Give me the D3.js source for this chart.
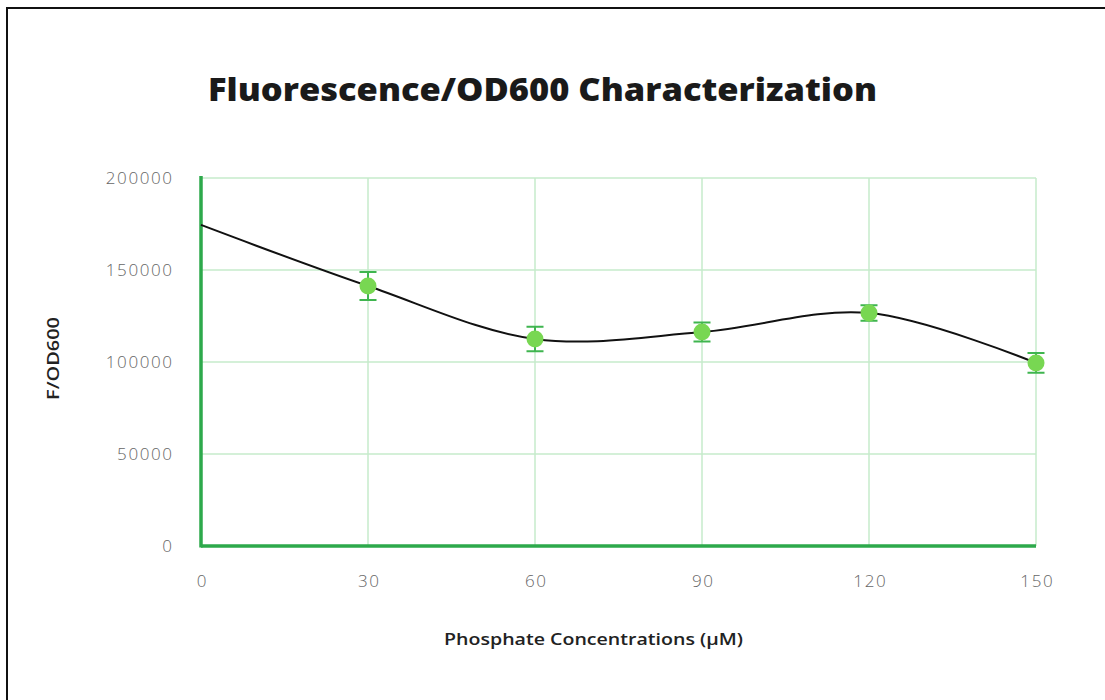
<!DOCTYPE html>
<html>
<head>
<meta charset="utf-8">
<script src="https://cdn.jsdelivr.net/npm/d3@7"></script>
<style>
  body { margin: 0; background: #fff; }
  svg text { font-family: "Open Sans", "DejaVu Sans", sans-serif; }
</style>
</head>
<body>
<div id="chart"></div>
<script>
// data
var concentrations = [0, 30, 60, 90, 120, 150];
var fluorescence   = [174500, 141300, 112500, 116300, 126600, 99500];
var errors         = [null, 7600, 6600, 5100, 4200, 5400];
var xTicks = [0, 30, 60, 90, 120, 150];
var yTicks = [0, 50000, 100000, 150000, 200000];

var W = 1105, H = 700;
var margin = {top: 178, right: 69, bottom: 154, left: 201};
var w = W - margin.left - margin.right,
    h = H - margin.top - margin.bottom;

var svg = d3.select('#chart').append('svg')
  .attr('width', W).attr('height', H);

// frame of the screenshot (only top and left edges visible)
svg.append('path')
  .attr('d', 'M7,' + H + 'V8H' + W)
  .attr('fill', 'none').attr('stroke', '#111').attr('stroke-width', 2);

svg.append('text')
  .attr('x', 208).attr('y', 101)
  .attr('font-size', 31).attr('font-weight', 800)
  .attr('fill', '#1a1a1a')
  .attr('textLength', 669).attr('lengthAdjust', 'spacingAndGlyphs')
  .text('Fluorescence/OD600 Characterization');

var g = svg.append('g').attr('transform', 'translate(' + margin.left + ',' + margin.top + ')');

var x = d3.scaleLinear().domain([0, 150]).range([0, w]);
var y = d3.scaleLinear().domain([0, 200000]).range([h, 0]);

// grid
g.selectAll('.hgrid').data(yTicks).enter().append('line')
  .attr('x1', 0).attr('x2', w)
  .attr('y1', d => y(d)).attr('y2', d => y(d))
  .attr('stroke', '#c6ebcb').attr('stroke-width', 1.5);
g.selectAll('.vgrid').data(xTicks).enter().append('line')
  .attr('x1', d => x(d)).attr('x2', d => x(d))
  .attr('y1', 0).attr('y2', h)
  .attr('stroke', '#c6ebcb').attr('stroke-width', 1.5);

// axes lines
g.append('line').attr('x1', 0).attr('x2', 0).attr('y1', -2).attr('y2', h + 1.5)
  .attr('stroke', '#2da94b').attr('stroke-width', 3.5);
g.append('line').attr('x1', 0).attr('x2', w).attr('y1', h).attr('y2', h)
  .attr('stroke', '#2da94b').attr('stroke-width', 3.5);

// tick labels
var yAxis = g.append('g').call(d3.axisLeft(y).tickValues(yTicks).tickSize(0).tickPadding(29).tickFormat(d3.format('d')));
var xAxis = g.append('g').attr('transform', 'translate(0,' + h + ')')
  .call(d3.axisBottom(x).tickValues(xTicks).tickSize(0).tickPadding(29));
[xAxis, yAxis].forEach(function (a) {
  a.select('.domain').remove();
  a.selectAll('text').attr('font-size', 17).attr('font-weight', 300)
    .attr('letter-spacing', 1.6)
    .attr('fill', '#666').attr('font-family', '"Open Sans", sans-serif');
});
yAxis.selectAll('text').attr('dx', 1.6);
xAxis.selectAll('text').attr('dx', 0.8);

// axis titles
svg.append('text')
  .attr('x', 444).attr('y', 645)
  .attr('font-size', 17).attr('font-weight', 600).attr('fill', '#222')
  .attr('textLength', 299).attr('lengthAdjust', 'spacingAndGlyphs')
  .text('Phosphate Concentrations (μM)');
svg.append('text')
  .attr('transform', 'translate(59,400) rotate(-90)')
  .attr('font-size', 17).attr('font-weight', 600).attr('fill', '#222')
  .attr('textLength', 83).attr('lengthAdjust', 'spacingAndGlyphs')
  .text('F/OD600');

var pts = concentrations.map((c, i) => ({x: c, y: fluorescence[i], e: errors[i]}));

// smooth line
var line = d3.line().x(d => x(d.x)).y(d => y(d.y)).curve(d3.curveCatmullRom.alpha(0.5));
g.append('path').datum(pts)
  .attr('d', line).attr('fill', 'none')
  .attr('stroke', '#111').attr('stroke-width', 2);

// error bars
var eb = pts.filter(d => d.e != null);
var cap = 8.5;
g.selectAll('.err').data(eb).enter().append('path')
  .attr('d', d => {
    var cx = x(d.x), t = y(d.y + d.e), b = y(d.y - d.e);
    return 'M' + cx + ',' + t + 'V' + b +
      'M' + (cx - cap) + ',' + t + 'H' + (cx + cap) +
      'M' + (cx - cap) + ',' + b + 'H' + (cx + cap);
  })
  .attr('fill', 'none').attr('stroke', '#3fb54f').attr('stroke-width', 2);

// markers
g.selectAll('.pt').data(eb).enter().append('circle')
  .attr('cx', d => x(d.x)).attr('cy', d => y(d.y)).attr('r', 8.5)
  .attr('fill', '#78d752');
</script>
</body>
</html>
